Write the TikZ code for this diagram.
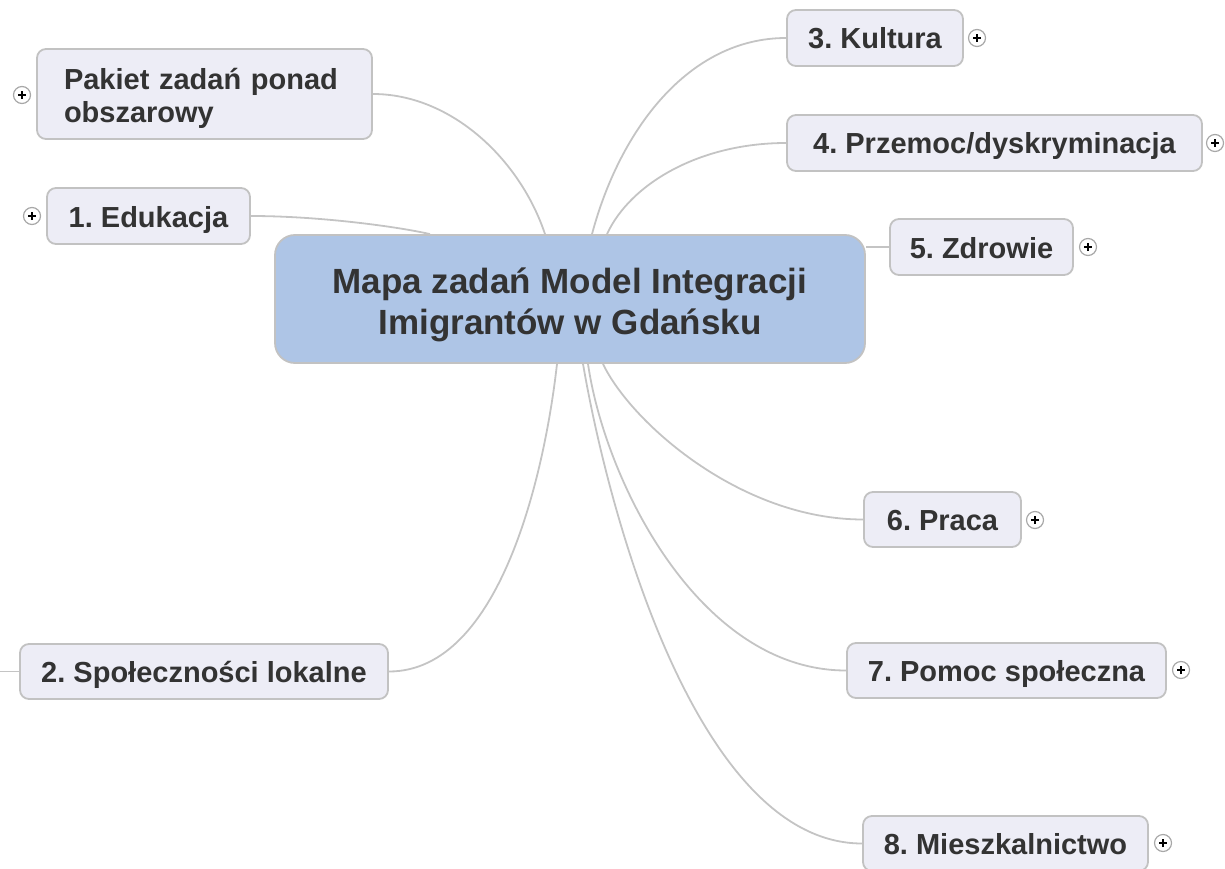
\documentclass[tikz,border=0pt]{standalone}
\usepackage{fontspec}
\setmainfont{Liberation Sans}
\frenchspacing
\definecolor{boxfill}{HTML}{EDEDF6}
\definecolor{boxline}{HTML}{C2C2C2}
\definecolor{centerfill}{HTML}{AEC5E6}
\definecolor{linkcol}{HTML}{C4C4C4}
\definecolor{txt}{HTML}{333333}
\definecolor{plusline}{HTML}{A8A8A8}
\tikzset{
  topic/.style={draw=boxline, line width=1.8pt, fill=boxfill, rounded corners=9pt,
    text=txt, font=\fontsize{29}{33}\selectfont\bfseries, inner sep=0pt,
    text height=22pt, text depth=0pt},
  topicbox/.style={draw=boxline, line width=1.8pt, fill=boxfill, rounded corners=9pt, inner sep=0pt},
  topictext/.style={text=txt, font=\fontsize{29}{33}\selectfont\bfseries, inner sep=0pt},
  centralbox/.style={draw=boxline, line width=1.8pt, fill=centerfill, rounded corners=20pt,
    inner sep=0pt, minimum width=590pt, minimum height=128pt},
  centraltext/.style={text=txt, font=\fontsize{35}{41}\selectfont\bfseries, align=center, inner sep=0pt},
  link/.style={draw=linkcol, line width=1.8pt},
  plusbox/.style={circle, draw=plusline, line width=1.2pt, fill=white, minimum size=17pt, inner sep=0pt,
    path picture={\draw[black, line width=1.6pt] ([xshift=-4pt]path picture bounding box.center) -- ([xshift=4pt]path picture bounding box.center);
                  \draw[black, line width=1.6pt] ([yshift=-4pt]path picture bounding box.center) -- ([yshift=4pt]path picture bounding box.center);}}
}
\begin{document}
\begin{tikzpicture}[x=1pt, y=-1pt]
\useasboundingbox (0,0) rectangle (1225,869);

% nodes
\node[centralbox] (c) at (570,299) {};
\node[centraltext] (ct) at (570,305) {Mapa zadań Model Integracji\\Imigrantów w Gdańsku};

\node[topicbox, minimum width=335pt, minimum height=90pt] (pk) at (204.5,94) {};
\node[topictext, text width=281pt, align=left] (pkt) at (204.5,98) {Pakiet zadań ponad\\obszarowy};
\node[topic, minimum width=203pt, minimum height=56pt] (ed) at (148.5,216) {1. Edukacja};
\node[topic, minimum width=368pt, minimum height=55pt] (soc) at (204,671.5) {2. Społeczności lokalne};
\node[topic, minimum width=176pt, minimum height=56pt] (k3) at (875,38) {3. Kultura};
\node[topic, minimum width=415pt, minimum height=56pt] (k4) at (994.5,143) {4. Przemoc/dyskryminacja};
\node[topic, minimum width=183pt, minimum height=56pt] (k5) at (981.5,247) {5. Zdrowie};
\node[topic, minimum width=157pt, minimum height=55pt] (k6) at (942.5,519.5) {6. Praca};
\node[topic, minimum width=319pt, minimum height=55pt] (k7) at (1006.5,670.5) {7. Pomoc społeczna};
\node[topic, minimum width=285pt, minimum height=55pt] (k8) at (1005.5,843.5) {8. Mieszkalnictwo};

\coordinate (offleft) at (0,671.5);

% connectors
\path[link] (pk.east) .. controls +(78,0) and +(-25,-75) .. ([xshift=-25pt]c.north);
\path[link] (ed.east) .. controls +(70,0) and +(-30,-7) .. ([xshift=-140pt]c.north);
\path[link] ([xshift=22pt]c.north) .. controls +(28,-105) and +(-97,0) .. (k3.west);
\path[link] ([xshift=37pt]c.north) .. controls +(23,-50) and +(-87,0) .. (k4.west);
\path[link] (k5.west) -- (k5.west -| c.east);
\path[link] ([xshift=-13pt]c.south) .. controls +(-12,107) and +(112,0) .. (soc.east);
\path[link] ([xshift=33pt]c.south) .. controls +(27,57) and +(-124,0) .. (k6.west);
\path[link] ([xshift=18pt]c.south) .. controls +(17,117) and +(-147,0) .. (k7.west);
\path[link] ([xshift=13pt]c.south) .. controls +(27,157) and +(-163,0) .. (k8.west);
\path[link] (soc.west) -- (offleft);

% plus markers
\node[plusbox] (p0) at (22,95) {};
\node[plusbox] (p1) at (32,216) {};
\node[plusbox] (p3) at (977,38) {};
\node[plusbox] (p4) at (1215,143) {};
\node[plusbox] (p5) at (1088,247) {};
\node[plusbox] (p6) at (1035,520) {};
\node[plusbox] (p7) at (1181,670) {};
\node[plusbox] (p8) at (1163,843) {};
\end{tikzpicture}
\end{document}
